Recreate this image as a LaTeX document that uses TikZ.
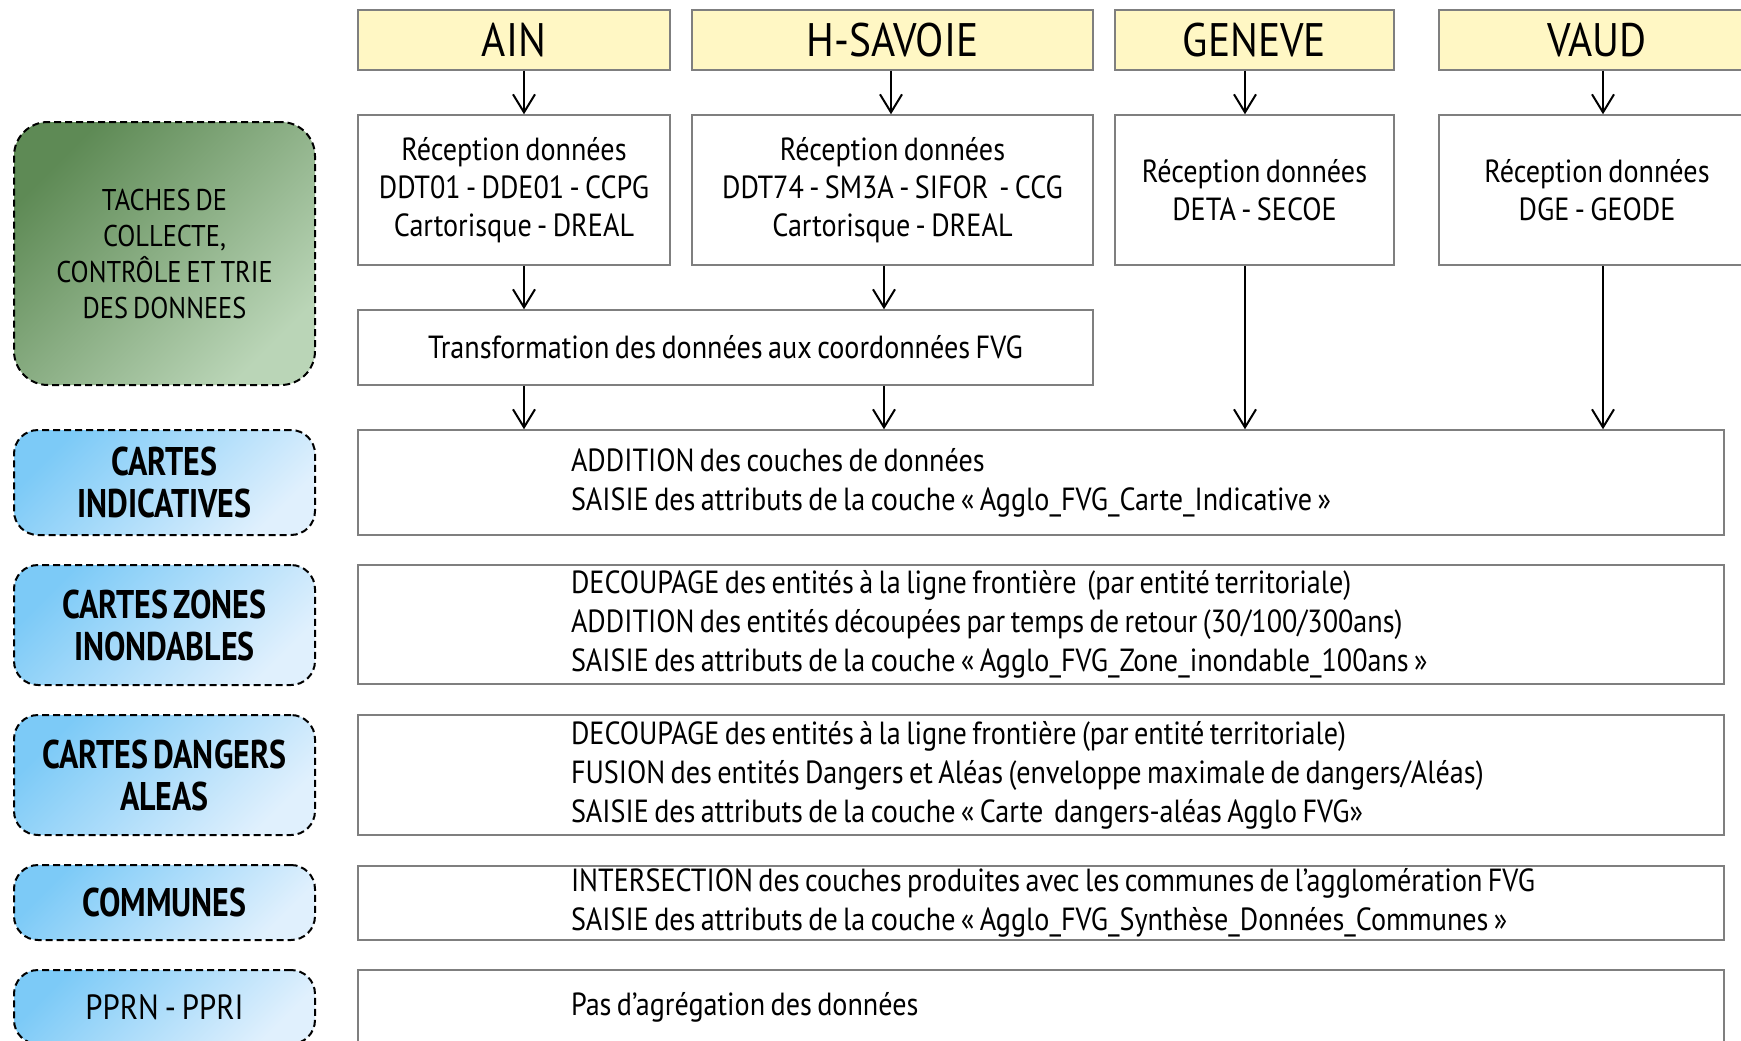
\documentclass[tikz,border=0pt]{standalone}
\usepackage{fontspec}
\setmainfont{PT Sans}[FakeStretch=0.88,WordSpace=0.72,BoldFeatures={FakeStretch=0.8}]
\usetikzlibrary{arrows.meta}

\definecolor{regionyellow}{HTML}{FFF7C4}
\definecolor{boxgray}{HTML}{7F7F7F}
\definecolor{greendark}{HTML}{5E8A55}
\definecolor{greenlight}{HTML}{BAD5B7}
\definecolor{bluedark}{HTML}{7CCAF7}
\definecolor{bluelight}{HTML}{E0F0FD}

\begin{document}
\begin{tikzpicture}[x=1pt,y=-1pt,
  region/.style={draw=boxgray,line width=1.5pt,fill=regionyellow,inner sep=0pt,
    minimum height=60pt,font=\fontsize{47}{50}\selectfont},
  source/.style={draw=boxgray,line width=1.5pt,fill=white,inner sep=0pt,align=center,
    minimum height=150pt,font=\fontsize{32}{38}\selectfont},
  task/.style={draw=boxgray,line width=1.5pt,fill=white,inner ysep=0pt,inner xsep=213pt,
    text width=940pt,align=flush left,font=\fontsize{32}{39}\selectfont},
  theme/.style={draw=black,line width=2pt,dash pattern=on 7pt off 4pt,rounded corners=24pt,
    top color=bluedark,bottom color=bluelight,shading angle=45,inner sep=0pt,align=center,
    minimum width=301pt,font=\fontsize{40}{42}\selectfont\bfseries},
  task theme/.style={theme,rounded corners=34pt,top color=greendark,bottom color=greenlight,
    shading angle=45,font=\fontsize{30}{36}\selectfont},
  flow/.style={black,line width=2pt,-{Straight Barb[length=18pt,width=22pt,line width=2pt]}}
]
\useasboundingbox (0,0) rectangle (1741,1041);

% columns of the arrows
\coordinate (colA) at (524,0);
\coordinate (colB) at (891,0);
\coordinate (colBb) at (884,0);
\coordinate (colC) at (1245,0);
\coordinate (colD) at (1603,0);

\node[region,minimum width=312pt] (ain) at (514,40) {AIN};
\node[region,minimum width=401pt] (hsav) at (892.5,40) {H-SAVOIE};
\node[region,minimum width=279pt] (gen) at (1254.5,40) {GENEVE};
\node[region,minimum width=316pt] (vaud) at (1597,40) {VAUD};

\node[source,minimum width=312pt] (recain) at (514,190) {Réception données\\DDT01 - DDE01 - CCPG\\Cartorisque - DREAL};
\node[source,minimum width=401pt] (rechsav) at (892.5,190) {Réception données\\DDT74 - SM3A - SIFOR~~- CCG\\Cartorisque - DREAL};
\node[source,minimum width=279pt] (recgen) at (1254.5,190) {Réception données\\DETA - SECOE};
\node[source,minimum width=316pt] (recvaud) at (1597,190) {Réception données\\DGE - GEODE};

\node[source,minimum width=735pt,minimum height=75pt] (trans) at (725.5,347.5) {Transformation des données aux coordonnées FVG};

\node[task,minimum height=105pt] (add) at (1041,482.5) {ADDITION des couches de données\\SAISIE des attributs de la couche « Agglo\_FVG\_Carte\_Indicative »};
\node[task,minimum height=119pt] (zon) at (1041,624.5) {DECOUPAGE des entités à la ligne frontière~~(par entité territoriale)\\ADDITION des entités découpées par temps de retour (30/100/300ans)\\SAISIE des attributs de la couche « Agglo\_FVG\_Zone\_inondable\_100ans »};
\node[task,minimum height=120pt] (dan) at (1041,775) {DECOUPAGE des entités à la ligne frontière (par entité territoriale)\\FUSION des entités Dangers et Aléas (enveloppe maximale de dangers/Aléas)\\SAISIE des attributs de la couche « Carte~~dangers-aléas Agglo FVG»};
\node[task,minimum height=74pt] (com) at (1041,903) {\mbox{INTERSECTION des couches produites avec les communes de l’agglomération FVG}\\SAISIE des attributs de la couche « Agglo\_FVG\_Synthèse\_Données\_Communes »};
\node[task,minimum height=74pt] (ppr) at (1041,1007) {Pas d’agrégation des données};

\node[task theme,minimum height=263pt] (taches) at (164.5,253.5) {TACHES DE\\COLLECTE,\\CONTRÔLE ET TRIE\\DES DONNEES};
\node[theme,minimum height=105pt] (thind) at (164.5,482.5) {CARTES\\INDICATIVES};
\node[theme,minimum height=120pt] (thzon) at (164.5,625) {CARTES ZONES\\INONDABLES};
\node[theme,minimum height=120pt] (thdan) at (164.5,775) {CARTES DANGERS\\ALEAS};
\node[theme,minimum height=75pt] (thcom) at (164.5,902.5) {COMMUNES};
\node[theme,minimum height=74pt,font=\fontsize{35}{42}\selectfont] (thppr) at (164.5,1007) {PPRN - PPRI};

\draw[flow] (ain.south -| colA) -- (recain.north -| colA);
\draw[flow] (hsav.south -| colB) -- (rechsav.north -| colB);
\draw[flow] (gen.south -| colC) -- (recgen.north -| colC);
\draw[flow] (vaud.south -| colD) -- (recvaud.north -| colD);
\draw[flow] (recain.south -| colA) -- (trans.north -| colA);
\draw[flow] (rechsav.south -| colBb) -- (trans.north -| colBb);
\draw[flow] (trans.south -| colA) -- (add.north -| colA);
\draw[flow] (trans.south -| colBb) -- (add.north -| colBb);
\draw[flow] (recgen.south -| colC) -- (add.north -| colC);
\draw[flow] (recvaud.south -| colD) -- (add.north -| colD);

\end{tikzpicture}
\end{document}
